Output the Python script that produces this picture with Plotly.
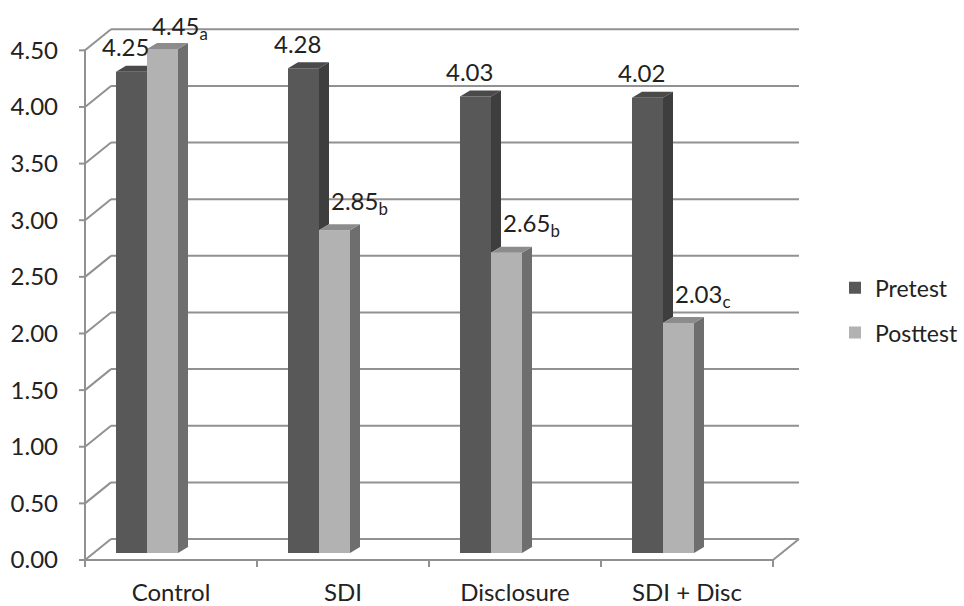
import plotly.graph_objects as go

# ---------------- data ----------------
categories = ["Control", "SDI", "Disclosure", "SDI + Disc"]
pretest = [4.25, 4.28, 4.03, 4.02]
posttest = [4.45, 2.85, 2.65, 2.03]
post_subscripts = ["a", "b", "b", "c"]
y_ticks = [0.0, 0.5, 1.0, 1.5, 2.0, 2.5, 3.0, 3.5, 4.0, 4.5]

# ---------------- layout constants ----------------
W, H = 964, 606
ML, MR, MT, MB = 75, 0, 15, 36
X0 = -0.5 - 10 / 172
X_RANGE = [X0, X0 + (W - ML - MR) / 172]
Y_RANGE = [-0.15, 4.75]
KX = (W - ML - MR) / (X_RANGE[1] - X_RANGE[0])   # px per x unit
KY = (H - MT - MB) / (Y_RANGE[1] - Y_RANGE[0])   # px per y unit

def px_x(p):
    return p / KX

def px_y(p):
    return p / KY

FRONT_DY = px_y(7)        # front plane is 7px below bar plane
BACK_DX = px_x(26)        # back wall offset
BACK_DY = px_y(14)
DEPTH_DX = px_x(10)       # bar depth
DEPTH_DY = px_y(6)
OFF_PRE = (116 - 85) / 172 - 0.5
BAR_W = 31 / 172
OFF_POST = OFF_PRE + BAR_W

FONT = "Lato, 'Open Sans', sans-serif"
FS = 24
TXT = "#222222"
GRID = "#919191"
PRE_FRONT, PRE_SIDE, PRE_TOP = "#585858", "#3e3e3e", "#4a4a4a"
POST_FRONT, POST_SIDE, POST_TOP = "#b2b2b2", "#6e6e6e", "#8c8c8c"

fig = go.Figure()
x_idx = list(range(len(categories)))
fig.add_trace(go.Bar(x=x_idx, y=pretest, name="Pretest", offset=OFF_PRE, width=BAR_W,
                     marker=dict(color=PRE_FRONT, line=dict(width=0)),
                     legendgroup="pre", hovertext=categories))
fig.add_trace(go.Bar(x=x_idx, y=posttest, name="Posttest", offset=OFF_POST, width=BAR_W,
                     marker=dict(color=POST_FRONT, line=dict(width=0)),
                     legendgroup="post", hovertext=categories))

shapes = []
gl = dict(color=GRID, width=2)
x0f, x1f = -0.5, 3.5
# back wall gridlines + left wall diagonals + front ticks
for v in y_ticks:
    shapes.append(dict(type="line", xref="x", yref="y", x0=x0f + BACK_DX, x1=x1f + BACK_DX,
                       y0=v + BACK_DY, y1=v + BACK_DY, line=gl, layer="below"))
    shapes.append(dict(type="line", xref="x", yref="y", x0=x0f, x1=x0f + BACK_DX,
                       y0=v - FRONT_DY, y1=v + BACK_DY, line=gl, layer="below"))
    shapes.append(dict(type="line", xref="x", yref="y", x0=x0f - px_x(6), x1=x0f,
                       y0=v - FRONT_DY, y1=v - FRONT_DY, line=gl, layer="below"))
# front vertical axis
shapes.append(dict(type="line", xref="x", yref="y", x0=x0f, x1=x0f,
                   y0=y_ticks[0] - FRONT_DY, y1=y_ticks[-1] - FRONT_DY, line=gl, layer="below"))
# floor front edge and right diagonal
shapes.append(dict(type="line", xref="x", yref="y", x0=x0f, x1=x1f,
                   y0=-FRONT_DY, y1=-FRONT_DY, line=gl, layer="below"))
shapes.append(dict(type="line", xref="x", yref="y", x0=x1f, x1=x1f + BACK_DX,
                   y0=-FRONT_DY, y1=BACK_DY, line=gl, layer="below"))
# category boundary ticks
for k in range(len(categories) + 1):
    xb = x0f + k
    shapes.append(dict(type="line", xref="x", yref="y", x0=xb, x1=xb,
                       y0=-FRONT_DY, y1=-FRONT_DY - px_y(7), line=gl, layer="below"))

def poly(pts, color):
    d = "M " + " L ".join(f"{a},{b}" for a, b in pts) + " Z"
    return dict(type="path", xref="x", yref="y", path=d, fillcolor=color,
                line=dict(width=0), layer="above")

for i, (pre, post) in enumerate(zip(pretest, posttest)):
    xl_pre = i + OFF_PRE
    xr_pre = xl_pre + BAR_W
    xl_post = i + OFF_POST
    xr_post = xl_post + BAR_W
    # pretest top face
    if post > pre:
        shapes.append(poly([(xl_pre, pre), (xr_pre, pre), (xr_pre, pre + DEPTH_DY),
                            (xl_pre + DEPTH_DX, pre + DEPTH_DY)], PRE_TOP))
    else:
        shapes.append(poly([(xl_pre, pre), (xr_pre, pre), (xr_pre + DEPTH_DX, pre + DEPTH_DY),
                            (xl_pre + DEPTH_DX, pre + DEPTH_DY)], PRE_TOP))
        # pretest side face visible above posttest bar
        shapes.append(poly([(xr_pre, pre), (xr_pre + DEPTH_DX, pre + DEPTH_DY),
                            (xr_pre + DEPTH_DX, post + DEPTH_DY), (xr_pre, post)], PRE_SIDE))
    # posttest side face
    shapes.append(poly([(xr_post, 0), (xr_post + DEPTH_DX, DEPTH_DY),
                        (xr_post + DEPTH_DX, post + DEPTH_DY), (xr_post, post)], POST_SIDE))
    # posttest top face
    shapes.append(poly([(xl_post, post), (xr_post, post), (xr_post + DEPTH_DX, post + DEPTH_DY),
                        (xl_post + DEPTH_DX, post + DEPTH_DY)], POST_TOP))

annotations = []
post_xshift = [3, 10, 10, 10]
post_yshift = [21, 28, 28, 28]
for i, (pre, post, sub) in enumerate(zip(pretest, posttest, post_subscripts)):
    annotations.append(dict(x=i + OFF_PRE + BAR_W / 2, y=pre, xref="x", yref="y",
                            text=f"{pre:.2f}", showarrow=False, xanchor="center",
                            yanchor="middle", xshift=-6, yshift=25,
                            font=dict(family=FONT, size=FS, color=TXT)))
    annotations.append(dict(x=i + OFF_POST, y=post, xref="x", yref="y",
                            text=f"{post:.2f}<sub>{sub}</sub>", showarrow=False,
                            xanchor="left", yanchor="middle", xshift=post_xshift[i],
                            yshift=post_yshift[i],
                            font=dict(family=FONT, size=FS, color=TXT)))

fig.update_layout(
    width=W, height=H,
    margin=dict(l=ML, r=MR, t=MT, b=MB, autoexpand=False),
    paper_bgcolor="white", plot_bgcolor="white",
    barmode="overlay",
    shapes=shapes,
    annotations=annotations,
    font=dict(family=FONT, size=FS, color=TXT),
    showlegend=True,
    legend=dict(x=(835 - ML) / (W - ML - MR), xanchor="left", y=0.468, yanchor="middle",
                font=dict(family=FONT, size=23, color=TXT),
                tracegroupgap=12, bgcolor="rgba(0,0,0,0)"),
    xaxis=dict(range=X_RANGE, tickvals=x_idx, ticktext=categories, ticks="",
               showgrid=False, zeroline=False, showline=False, automargin=False,
               tickfont=dict(family=FONT, size=FS, color=TXT), ticklabelstandoff=6),
    yaxis=dict(range=Y_RANGE, tickvals=y_ticks, ticktext=[f"{v:.2f}" for v in y_ticks],
               ticks="", showgrid=False, zeroline=False, showline=False, automargin=False,
               tickfont=dict(family=FONT, size=FS, color=TXT),
               ticklabelshift=7, ticklabelstandoff=16),
)

fig.write_html("out.html", config={"displayModeBar": False},
               post_script="document.body.style.margin='0';document.body.style.overflow='hidden';")
